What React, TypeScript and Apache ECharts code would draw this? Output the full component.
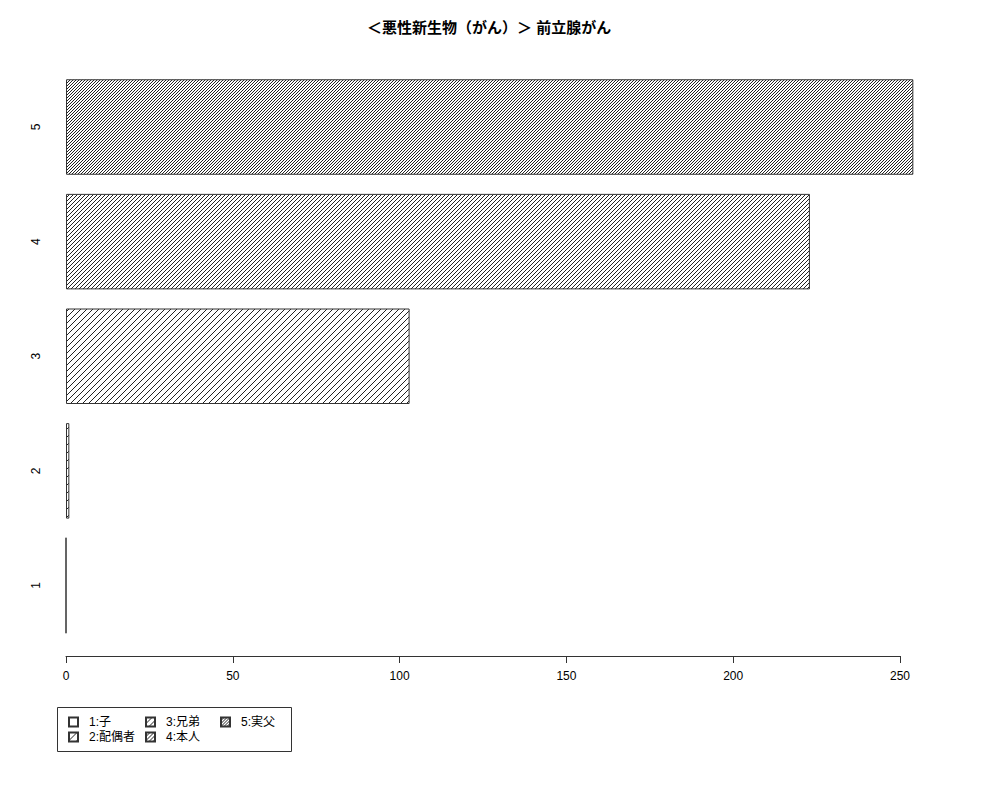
import { useEffect, useRef } from "react";
import * as echarts from "echarts";

const chartTitle = "＜悪性新生物（がん）＞ 前立腺がん";
const categories = ["1", "2", "3", "4", "5"];
const seriesNames = ["1:子", "2:配偶者", "3:兄弟", "4:本人", "5:実父"];
const values = [0, 1, 103, 223, 254];
// horizontal distance between hatch lines, 0 = no hatching
const hatchSteps = [0, 8, 6, 4, 3];
const xMin = 0;
const xMax = 250;
const xStep = 50;
const legendColumns = [[0, 1], [2, 3], [4]];

const FONT = '"Liberation Sans", "Noto Sans CJK JP", sans-serif';
const INK = "#333";

function hatch(step: number) {
  if (!step) return "#ffffff";
  const c = document.createElement("canvas");
  c.width = step;
  c.height = step;
  const ctx = c.getContext("2d")!;
  ctx.fillStyle = "#ffffff";
  ctx.fillRect(0, 0, step, step);
  ctx.strokeStyle = "#222";
  ctx.lineWidth = 1;
  for (let k = -1; k <= 1; k++) {
    ctx.beginPath();
    ctx.moveTo(k * step, step);
    ctx.lineTo(k * step + step, 0);
    ctx.stroke();
  }
  return { image: c, repeat: "repeat" };
}

function App() {
  const chartRef = useRef<HTMLDivElement>(null);

  useEffect(() => {
    if (!chartRef.current) return;
    const chart = echarts.init(chartRef.current, null, { renderer: "svg" });

    const legendLefts = [68, 145, 220];

    const option = {
      animation: false,
      backgroundColor: "#ffffff",
      title: {
        text: chartTitle,
        left: 367,
        top: 20,
        padding: 0,
        textStyle: {
          fontFamily: FONT,
          fontSize: 15,
          fontWeight: "bold",
          color: "#000",
        },
      },
      grid: [
        { left: 66, top: 69.7, width: 880.7, height: 573.1 },
        { left: 66, top: 600, width: 834, height: 56 },
      ],
      xAxis: [
        { gridIndex: 0, type: "value", min: 0, max: 264, show: false },
        {
          gridIndex: 1,
          type: "value",
          min: xMin,
          max: xMax,
          interval: xStep,
          axisLine: { show: true, lineStyle: { color: INK } },
          axisTick: { show: true, length: 7, lineStyle: { color: INK } },
          axisLabel: { fontSize: 12, margin: 14, color: "#000", fontFamily: FONT },
          splitLine: { show: false },
        },
      ],
      yAxis: [
        {
          gridIndex: 0,
          type: "category",
          data: categories,
          axisLine: { show: false },
          axisTick: { show: false },
          axisLabel: { rotate: 90, margin: 24, fontSize: 12, color: "#000", fontFamily: FONT },
        },
        { gridIndex: 1, type: "value", show: false },
      ],
      legend: legendColumns.map((col, k) => ({
        data: col.map((i) => seriesNames[i]),
        orient: "vertical",
        left: legendLefts[k],
        top: 716,
        padding: 0,
        itemWidth: 9,
        itemHeight: 9,
        itemGap: 3,
        icon: "rect",
        selectedMode: false,
        textStyle: {
          fontFamily: FONT,
          fontSize: 12,
          lineHeight: 12,
          color: "#000",
          padding: [0, 0, 0, 6],
        },
      })),
      graphic: [
        {
          type: "rect",
          shape: { x: 57.5, y: 707.5, width: 234, height: 44 },
          style: { fill: "none", stroke: INK, lineWidth: 1 },
        },
      ],
      series: values.map((v, i) => ({
        type: "bar",
        name: seriesNames[i],
        xAxisIndex: 0,
        yAxisIndex: 0,
        barWidth: 95.5,
        barGap: "-100%",
        data: values.map((_, j) => (j === i ? v : "-")),
        itemStyle: {
          color: hatch(hatchSteps[i]),
          borderColor: INK,
          borderWidth: 1,
        },
      })),
    };

    chart.setOption(option as any, true);

    return () => {
      chart.dispose();
    };
  }, []);

  return (
    <div
      ref={chartRef}
      style={{ position: "absolute", left: 0, top: 0, width: "1000px", height: "800px" }}
    />
  );
}

export default App;
